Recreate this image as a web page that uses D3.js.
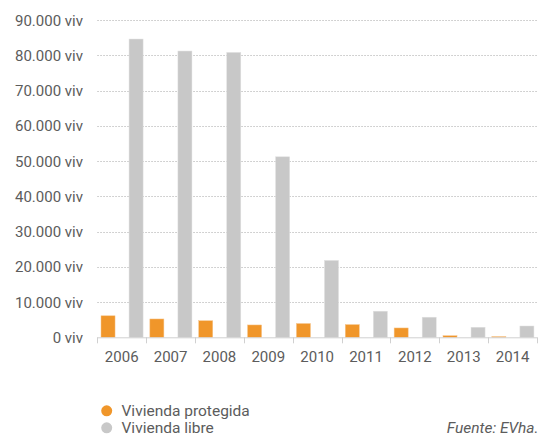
<!DOCTYPE html>
<html><head><meta charset="utf-8">
<script src="https://cdn.jsdelivr.net/npm/d3@7"></script>
<style>body{margin:0;background:#fff;} text{font-family:Roboto, "Noto Sans", sans-serif;}</style>
</head><body>
<svg id="c" width="539" height="445"></svg>
<script>
const years = ["2006","2007","2008","2009","2010","2011","2012","2013","2014"];
const protegida = [6100, 5200, 4700, 3500, 3900, 3600, 2650, 450, 200];
const libre = [84600, 81200, 80800, 51200, 21800, 7400, 5700, 2850, 3200];
const yTicks = [0,10000,20000,30000,40000,50000,60000,70000,80000,90000];
const seriesNames = ["Vivienda protegida","Vivienda libre"];
const colors = ["#F0962A","#C8C8C8"];

(function(){
const svg = d3.select("#c");
const pLeft = 97.3, pRight = 537, pTop = 20, pBottom = 337.3;
const x = d3.scaleBand().domain(years).range([pLeft, pRight]);
const y = d3.scaleLinear().domain([0,90000]).range([pBottom, pTop]);
const fmt = v => d3.format(",")(v).replace(/,/g,".") + " viv";
const txt = "#5c5c5c";

svg.append("g").selectAll("line").data(yTicks.filter(d=>d>0)).join("line")
  .attr("x1", pLeft).attr("x2", pRight)
  .attr("y1", d=>Math.round(y(d))+0.5).attr("y2", d=>Math.round(y(d))+0.5)
  .attr("stroke","#c4c4c4").attr("stroke-width",1).attr("stroke-dasharray","1.5,1.5");

svg.append("g").selectAll("text").data(yTicks).join("text")
  .attr("x", 83).attr("y", d=>y(d)+5.5)
  .attr("text-anchor","end").attr("font-size",15).attr("fill",txt)
  .text(fmt);

const bw = x.bandwidth();
const barW = bw*0.287;
const g = svg.append("g");
g.selectAll("rect.p").data(years).join("rect").attr("class","p")
  .attr("x", d=>x(d)+bw*0.076).attr("width", barW)
  .attr("y", (d,i)=>y(protegida[i])).attr("height",(d,i)=>y(0)-y(protegida[i]))
  .attr("fill", colors[0]).attr("stroke","#f6c48a").attr("stroke-width",0.5);
g.selectAll("rect.l").data(years).join("rect").attr("class","l")
  .attr("x", d=>x(d)+bw*0.65).attr("width", barW)
  .attr("y", (d,i)=>y(libre[i])).attr("height",(d,i)=>y(0)-y(libre[i]))
  .attr("fill", colors[1]).attr("stroke","#e0e0e0").attr("stroke-width",0.5);

svg.append("line").attr("x1",pLeft).attr("x2",pRight).attr("y1",pBottom+0.5).attr("y2",pBottom+0.5)
  .attr("stroke","#d0d0d0").attr("stroke-width",1);
const bounds = years.map(d=>x(d)).concat([pRight]);
svg.append("g").selectAll("line").data(bounds).join("line")
  .attr("x1",d=>Math.round(d)+0.5).attr("x2",d=>Math.round(d)+0.5)
  .attr("y1",pBottom).attr("y2",pBottom+6).attr("stroke","#d0d0d0");
svg.append("g").selectAll("text").data(years).join("text")
  .attr("x", d=>x(d)+bw/2).attr("y", 362)
  .attr("text-anchor","middle").attr("font-size",15).attr("fill",txt)
  .text(d=>d);

const lg = svg.append("g");
seriesNames.forEach((n,i)=>{
  lg.append("circle").attr("cx",106.7).attr("cy",410.8+i*17).attr("r",5.5).attr("fill",colors[i]);
  lg.append("text").attr("x",121.5).attr("y",416+i*17).attr("font-size",15.5).attr("fill",txt).text(n);
});
svg.append("text").attr("x",538.5).attr("y",433).attr("text-anchor","end")
  .attr("font-size",15.5).attr("font-style","italic").attr("fill",txt).text("Fuente: EVha.");
})();
</script>
</body></html>
